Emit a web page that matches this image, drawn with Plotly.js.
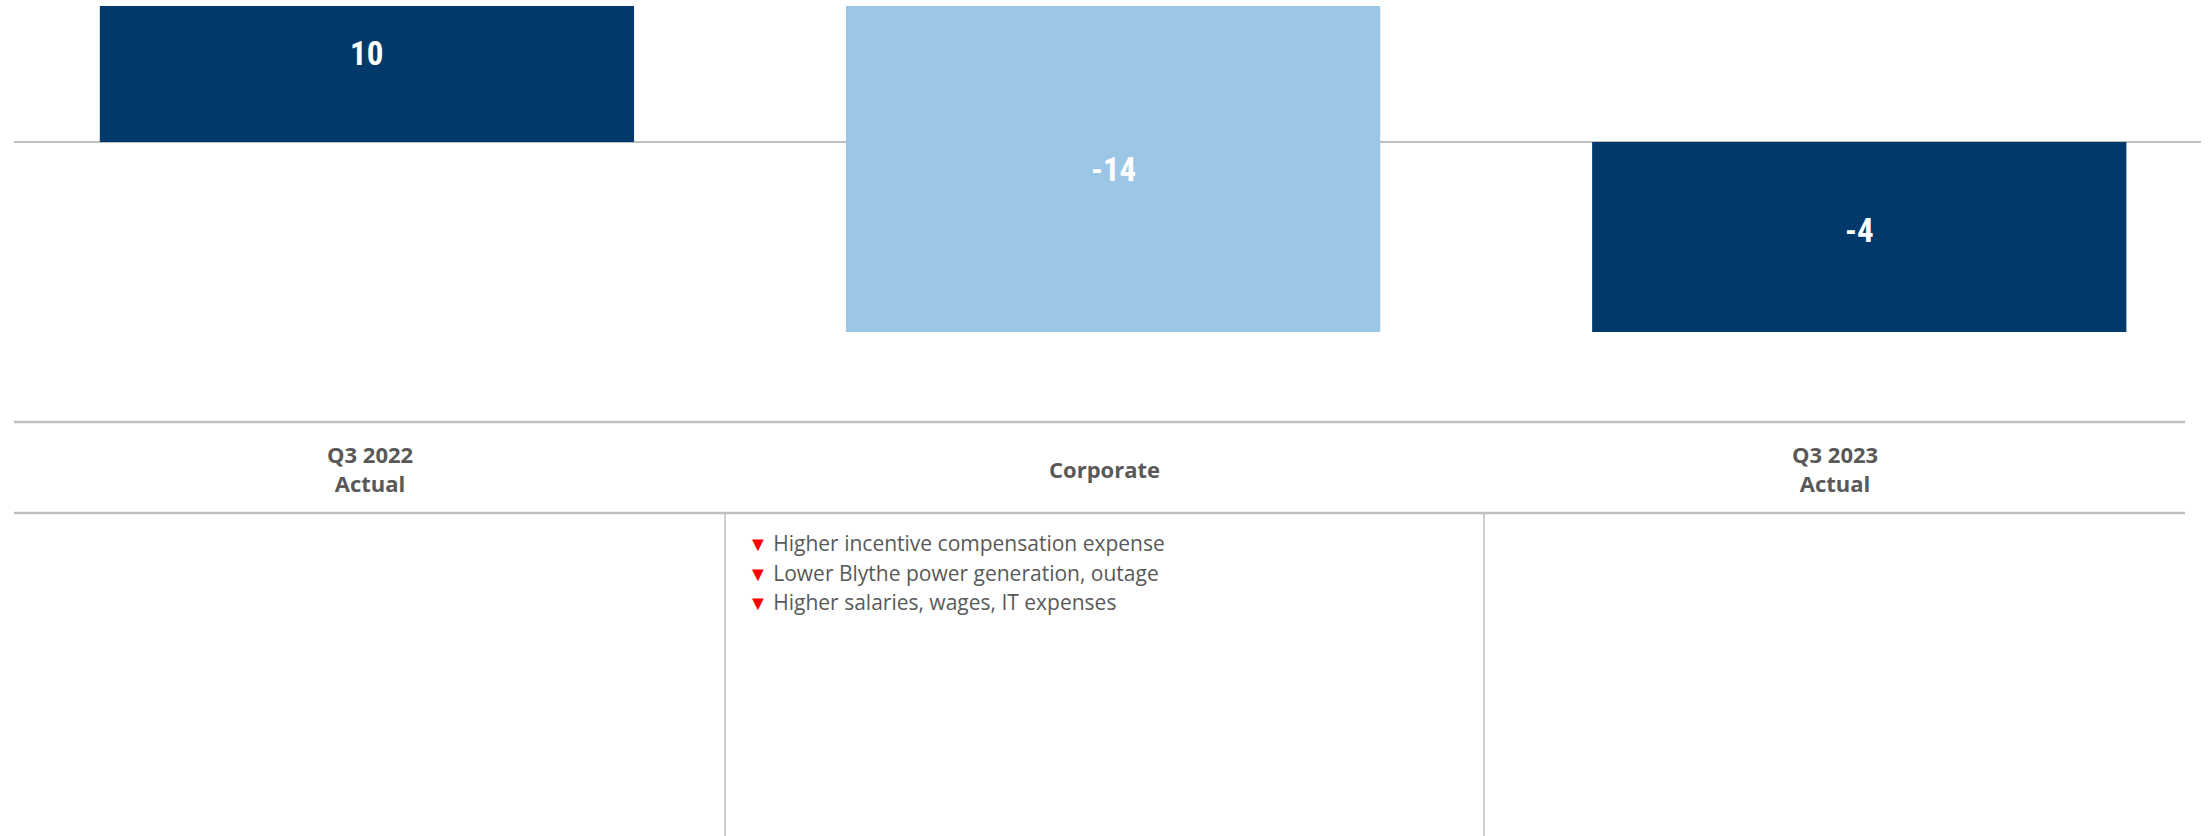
<!DOCTYPE html>
<html>
<head>
<meta charset="utf-8">
<script src="https://cdn.plot.ly/plotly-3.0.1.min.js"></script>
<style>
  html, body { margin: 0; padding: 0; background: #ffffff; }
  #chart { width: 2208px; height: 836px; }
</style>
</head>
<body>
<div id="chart"></div>
<script>
// ---------------- DATA ----------------
const categories = ["Q3 2022 Actual", "Corporate", "Q3 2023 Actual"];
const headerLabels = ["Q3 2022<br>Actual", "Corporate", "Q3 2023<br>Actual"];
const measures = ["absolute", "relative", "total"];
const values = [10, -14, -4];
const valueLabels = ["10", "-14", "-4"];
const corporateDrivers = [
  "Higher incentive compensation expense",
  "Lower Blythe power generation, outage",
  "Higher salaries, wages, IT expenses"
];

// ---------------- STYLE / LAYOUT ----------------
const W = 2208, H = 836;
const M = { l: 14, r: 7, t: 6, b: 0 };
const plotW = W - M.l - M.r, plotH = H - M.t - M.b;
const px2x = px => (px - M.l) / plotW;
const px2y = py => (H - M.b - py) / plotH;

const navy = "#01396A";
const lightBlue = "#9BC6E6";
const grey = "#BFBFBF";
const textGrey = "#595959";

const yRange = [-14.61, 2.863];
const xRange = [-0.473, 2.458];

// table geometry (pixels)
const tableLeft = 14, tableRight = 2185;
const headerTop = 422, headerBottom = 513;
const colEdges = [tableLeft, 725, 1484, tableRight];
const labelShift = [21, 0, 7];

// compute waterfall spans from data
const spans = [];
let running = 0;
for (let i = 0; i < values.length; i++) {
  let lo, hi;
  if (measures[i] === "absolute") { running = values[i]; lo = Math.min(0, running); hi = Math.max(0, running); }
  else if (measures[i] === "relative") { const prev = running; running += values[i]; lo = Math.min(prev, running); hi = Math.max(prev, running); }
  else { lo = Math.min(0, running); hi = Math.max(0, running); }
  spans.push([lo, hi]);
}

const trace = {
  type: "waterfall",
  x: categories,
  y: values,
  measure: measures,
  textinfo: "none",
  hoverinfo: "skip",
  connector: { visible: false },
  totals: { marker: { color: navy } },
  decreasing: { marker: { color: lightBlue } },
  increasing: { marker: { color: lightBlue } }
};

const annotations = [];
// value labels inside bars (center of visible span)
spans.forEach((s, i) => {
  const lo = Math.max(s[0], yRange[0]), hi = Math.min(s[1], yRange[1]);
  annotations.push({
    x: categories[i], xref: "x",
    y: (lo + hi) / 2, yref: "y",
    yshift: labelShift[i],
    text: "<b>" + valueLabels[i] + "</b>",
    showarrow: false,
    xanchor: "center", yanchor: "middle",
    font: { family: "Liberation Sans Narrow, Arial Narrow, Roboto Condensed, sans-serif", size: 33, color: "#ffffff" }
  });
});

// header labels
headerLabels.forEach((t, i) => {
  const cx = (colEdges[i] + colEdges[i + 1]) / 2;
  const cy = (headerTop + headerBottom) / 2 + 1;
  annotations.push({
    x: px2x(cx), xref: "paper",
    y: px2y(cy), yref: "paper",
    text: "<b>" + t + "</b>",
    showarrow: false,
    xanchor: "center", yanchor: "middle", align: "center",
    font: { family: "Open Sans, sans-serif", size: 22, color: textGrey }
  });
});

// driver bullets in the Corporate column
corporateDrivers.forEach((t, j) => {
  annotations.push({
    x: px2x(746), xref: "paper",
    y: px2y(543 + j * 29.5), yref: "paper",
    text: '<span style="color:#FF0000;font-size:20px">▼</span> ' + t,
    showarrow: false,
    xanchor: "left", yanchor: "middle",
    font: { family: "Open Sans, sans-serif", size: 21, color: textGrey }
  });
});

const shapes = [
  { type: "line", xref: "paper", yref: "paper", x0: px2x(tableLeft), x1: px2x(tableRight), y0: px2y(headerTop), y1: px2y(headerTop), line: { color: grey, width: 2.5 } },
  { type: "line", xref: "paper", yref: "paper", x0: px2x(tableLeft), x1: px2x(tableRight), y0: px2y(headerBottom), y1: px2y(headerBottom), line: { color: grey, width: 2.5 } },
  { type: "line", xref: "paper", yref: "paper", x0: px2x(colEdges[1]), x1: px2x(colEdges[1]), y0: px2y(headerBottom), y1: px2y(H), line: { color: grey, width: 1.5 } },
  { type: "line", xref: "paper", yref: "paper", x0: px2x(colEdges[2]), x1: px2x(colEdges[2]), y0: px2y(headerBottom), y1: px2y(H), line: { color: grey, width: 1.5 } }
];

const layout = {
  width: W, height: H,
  margin: M,
  paper_bgcolor: "#ffffff",
  plot_bgcolor: "#ffffff",
  showlegend: false,
  waterfallgap: 0.284,
  xaxis: { type: "category", range: xRange, showticklabels: false, showgrid: false, zeroline: false, showline: false, ticks: "", fixedrange: true },
  yaxis: { range: yRange, showticklabels: false, showgrid: false, zeroline: true, zerolinecolor: grey, zerolinewidth: 1.5, showline: false, ticks: "", fixedrange: true },
  annotations: annotations,
  shapes: shapes
};

Plotly.newPlot("chart", [trace], layout, { staticPlot: true, displayModeBar: false });
</script>
</body>
</html>
